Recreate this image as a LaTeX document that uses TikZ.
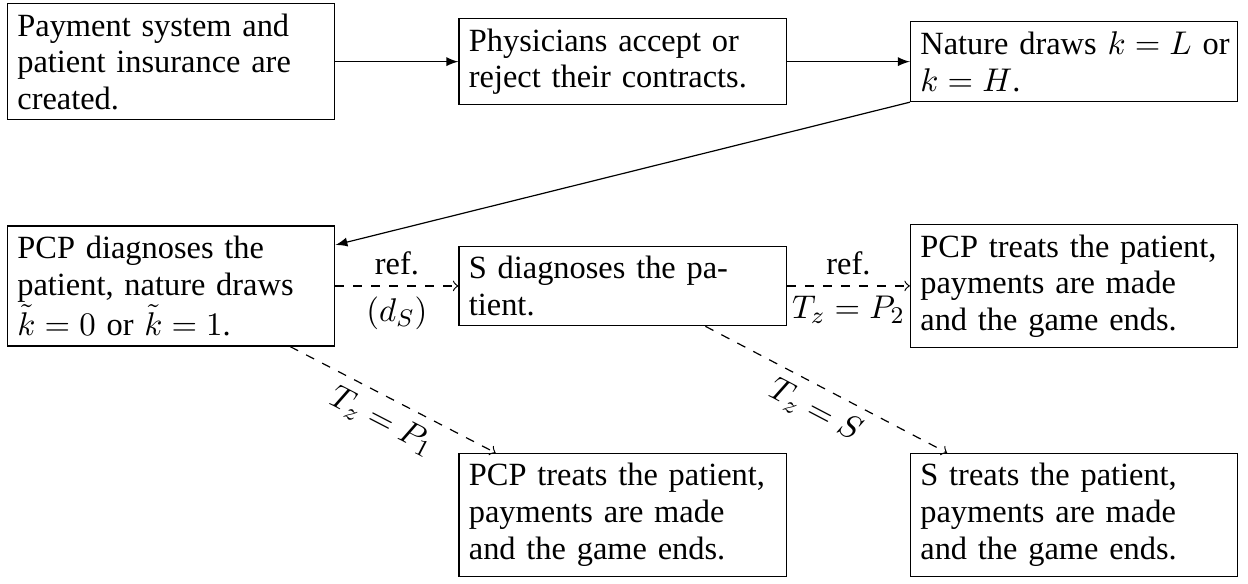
\documentclass[tikz,border=0pt]{standalone}
\usepackage{fontspec}
\setmainfont{Liberation Serif}
\usetikzlibrary{arrows,positioning}
\tikzset{
	stage/.style={
		draw, align=left, %lines broken by hand
		text width=102.5pt, inner xsep=3.3pt, inner ysep=0.3333em}
}

\begin{document}
\begin{tikzpicture}[node distance=41pt, font=\fontsize{10.8}{12.2}\selectfont]
			\node[stage] (setup) {Payment system and\\ patient insurance are\\ created.};
			\node[stage, right=of setup] (accept) {Physicians accept or\\ reject their contracts.};
			\node[stage, right=of accept] (nature) {\mbox{Nature draws $k=L$ or}\\ $k=H$.};
			\node[stage, below=35pt of setup] (pcpdiag) {PCP diagnoses the\\ patient, nature draws\\ $\tilde{k}=0$ or $\tilde{k}=1$.};
			\node[stage, right=of pcpdiag] (sdiag) {S diagnoses the pa-\\ tient.};
			\node[stage, right=of sdiag] (pcpref) {PCP treats the patient,\\ payments are made\\ and the game ends.};
			\node[stage, below=35pt of pcpref] (sends) {S treats the patient,\\ payments are made\\ and the game ends.};
			\node[stage, left=of sends] (pcpends) {PCP treats the patient,\\ payments are made\\ and the game ends.};
			% first stage
			\draw[-latex] (setup) -- (accept);
			\draw[-latex] (accept) -- (nature);
			\draw[-latex] (nature.south west) -- (pcpdiag.14);
			% referrals
			\draw[->,dashed] (pcpdiag) -- node[above] {ref.} node[below] {$(d_S)$} (sdiag);
			\draw[->,dashed] (sdiag) -- node[above] {ref.} node[below] {$T_z=P_2$} (pcpref);
			\draw[->,dashed] (pcpdiag.-27) -- node[sloped,below] {$T_z=P_1$} (pcpends.154);
			\draw[->,dashed] (sdiag.-26) -- node[sloped,below] {$T_z=S$} (sends.154);
			\useasboundingbox (setup.north west) ++(-2.3pt,1pt) rectangle ++(416pt,-194.67pt);
			\end{tikzpicture}
\end{document}
